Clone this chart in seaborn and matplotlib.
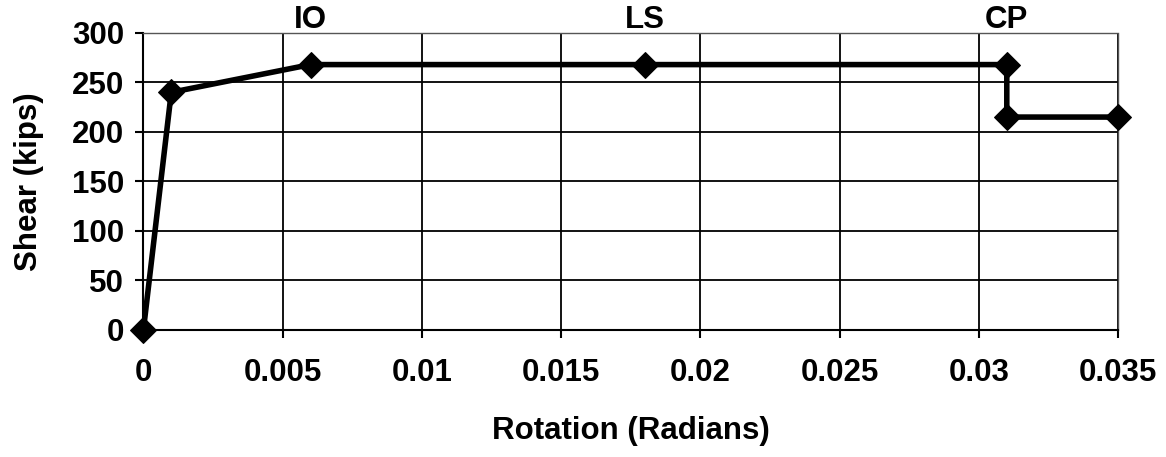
import matplotlib
matplotlib.use("Agg")
import matplotlib.pyplot as plt
import seaborn as sns
import pandas as pd

sns.set_theme(style="white")
plt.rcParams['font.family'] = ['Liberation Sans', 'DejaVu Sans']
plt.rcParams['text.color'] = 'black'
plt.rcParams['axes.labelcolor'] = 'black'

# data
rotation = [0, 0.001, 0.006, 0.018, 0.031, 0.031, 0.035]
shear = [0, 240, 268, 268, 268, 215, 215]
level_labels = ["IO", "LS", "CP"]
level_x = [0.006, 0.018, 0.031]
x_ticks = [0, 0.005, 0.01, 0.015, 0.02, 0.025, 0.03, 0.035]
x_tick_labels = ["0", "0.005", "0.01", "0.015", "0.02", "0.025", "0.03", "0.035"]
y_ticks = [0, 50, 100, 150, 200, 250, 300]

df = pd.DataFrame({"Rotation": rotation, "Shear": shear})

fig = plt.figure(figsize=(11.66, 4.57), dpi=100)
ax = fig.add_axes([0.123, 0.278, 0.836, 0.65])

ax.grid(True, axis="both", color="black", linewidth=1.3)
ax.set_axisbelow(True)
sns.lineplot(data=df, x="Rotation", y="Shear", sort=False, estimator=None,
             ax=ax, color="black", linewidth=4, marker="D", markersize=13,
             markeredgecolor="black", markerfacecolor="black", clip_on=False,
             zorder=5)

ax.set_xlim(0, 0.035)
ax.set_ylim(0, 300)
ax.set_xticks(x_ticks)
ax.set_xticklabels(x_tick_labels)
ax.set_yticks(y_ticks)
ax.tick_params(axis="both", labelsize=22.5, direction="out", length=6, width=1.5,
               colors="black", bottom=True, left=True, pad=8)
for lab in ax.get_xticklabels() + ax.get_yticklabels():
    lab.set_fontweight("bold")
ax.tick_params(axis="x", pad=14)

for sp in ["left", "bottom"]:
    ax.spines[sp].set_color("black")
    ax.spines[sp].set_linewidth(1.5)
for sp in ["top", "right"]:
    ax.spines[sp].set_color("#555555")
    ax.spines[sp].set_linewidth(1.0)
    ax.spines[sp].set_linestyle((0, (2, 1)))

ax.set_xlabel("Rotation (Radians)", fontsize=22.5, fontweight="bold", labelpad=20)
ax.set_ylabel("Shear (kips)", fontsize=22.5, fontweight="bold", labelpad=20)

for name, xv in zip(level_labels, level_x):
    ax.text(xv, 298, name, fontsize=22.5, fontweight="bold",
            ha="center", va="bottom", transform=ax.transData)

fig.savefig("out.png", dpi=100)
